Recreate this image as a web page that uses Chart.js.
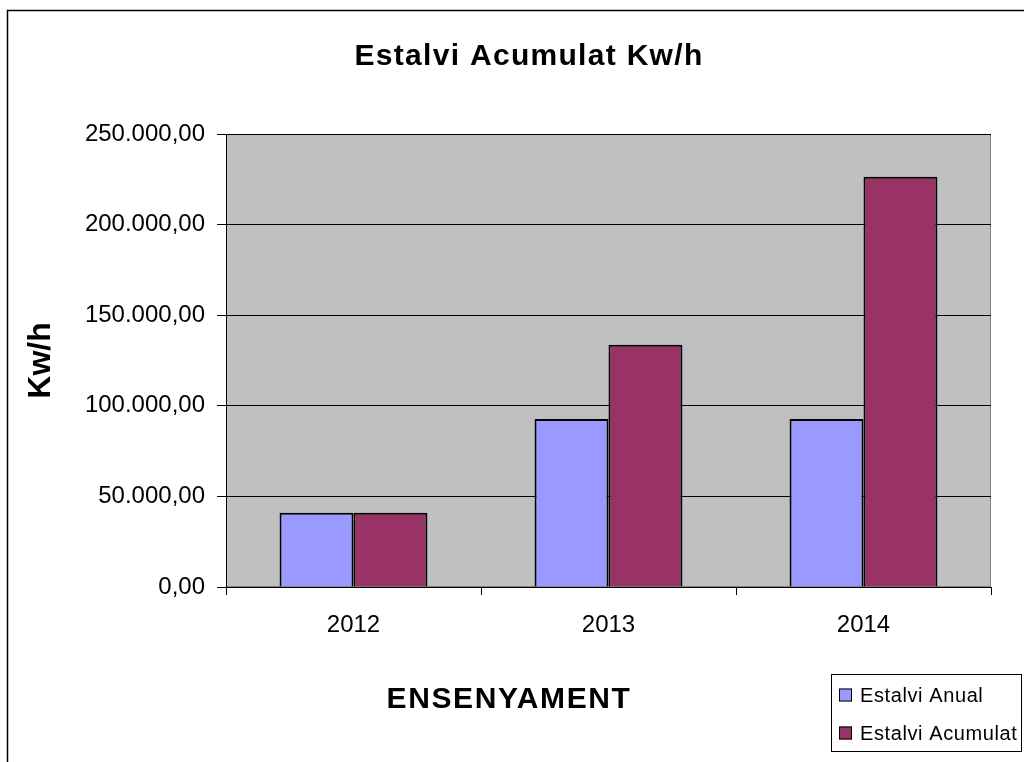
<!DOCTYPE html>
<html>
<head>
<meta charset="utf-8">
<title>Estalvi Acumulat Kw/h</title>
<script src="https://cdn.jsdelivr.net/npm/chart.js@4"></script>
<style>
  html, body { margin: 0; padding: 0; background: #fff; }
  #wrap { width: 1024px; height: 762px; position: relative; }
</style>
</head>
<body>
<div id="wrap"><canvas id="myChart"></canvas></div>
<script>
// Data
const years = ['2012', '2013', '2014'];
const estalviAnual = [41000, 92700, 92700];
const estalviAcumulat = [41000, 133700, 226400];
const seriesNames = ['Estalvi Anual', 'Estalvi Acumulat'];
const chartTitle = 'Estalvi Acumulat Kw/h';
const xTitle = 'ENSENYAMENT';
const yTitle = 'Kw/h';

const FONT = '"Liberation Sans", Arial, sans-serif';

// 250000 -> "250.000,00"
const fmt = v => String(Math.round(v)).replace(/\B(?=(\d{3})+(?!\d))/g, '.') + ',00';

// grey plot area, outer frame, title, x title and legend box
const excelLook = {
  id: 'excelLook',
  beforeDraw(chart) {
    const { ctx, chartArea: a } = chart;
    ctx.save();
    ctx.fillStyle = '#fff';
    ctx.fillRect(0, 0, chart.width, chart.height);
    // outer chart frame (only top and left edges are inside the picture)
    ctx.strokeStyle = '#000';
    ctx.lineWidth = 1.5;
    ctx.strokeRect(7.5, 10.5, 2000, 2000);
    // plot area
    ctx.fillStyle = '#C0C0C0';
    ctx.fillRect(a.left, a.top, a.right - a.left, a.bottom - a.top);
    ctx.strokeStyle = '#808080';
    ctx.lineWidth = 1;
    ctx.strokeRect(a.left + 0.5, a.top + 0.5, a.right - a.left - 1, a.bottom - a.top - 1);
    ctx.restore();
  },
  afterDraw(chart) {
    const { ctx } = chart;
    ctx.save();
    ctx.fillStyle = '#000';
    ctx.textAlign = 'center';
    ctx.textBaseline = 'alphabetic';
    ctx.font = 'bold 30px ' + FONT;
    ctx.letterSpacing = '1.3px';
    ctx.fillText(chartTitle, 529, 65);
    ctx.letterSpacing = '1.6px';
    ctx.fillText(xTitle, 509, 708);

    // legend
    ctx.strokeStyle = '#000';
    ctx.lineWidth = 1;
    ctx.strokeRect(831.5, 674.5, 190, 77);
    ctx.font = '20px ' + FONT;
    ctx.letterSpacing = '0.6px';
    ctx.textAlign = 'left';
    ctx.textBaseline = 'middle';
    const rows = [695, 733];
    chart.data.datasets.forEach((ds, i) => {
      const y = rows[i];
      ctx.fillStyle = ds.backgroundColor;
      ctx.fillRect(839, y - 6.5, 13, 13);
      ctx.strokeRect(839.5, y - 6, 12, 12);
      ctx.fillStyle = '#000';
      ctx.fillText(ds.label, 860, y + 1);
    });
    ctx.restore();
  }
};

const ctx = document.getElementById('myChart').getContext('2d');
new Chart(ctx, {
  type: 'bar',
  data: {
    labels: years,
    datasets: [
      {
        label: seriesNames[0],
        data: estalviAnual,
        backgroundColor: '#9999FF',
        borderColor: '#000',
        borderWidth: 2
      },
      {
        label: seriesNames[1],
        data: estalviAcumulat,
        backgroundColor: '#993366',
        borderColor: '#000',
        borderWidth: 2
      }
    ]
  },
  options: {
    responsive: true,
    maintainAspectRatio: false,
    animation: false,
    layout: { padding: { top: 134, left: 10, right: 33, bottom: 0 } },
    datasets: { bar: { categoryPercentage: 0.58, barPercentage: 1.0 } },
    plugins: {
      legend: { display: false },
      title: { display: false },
      tooltip: { enabled: false }
    },
    scales: {
      x: {
        afterFit(scale) { scale.height = 175; },
        border: { display: true, color: '#000', width: 1 },
        grid: {
          offset: true,
          drawOnChartArea: false,
          drawTicks: true,
          tickLength: 8,
          color: '#000'
        },
        ticks: {
          color: '#000',
          padding: 16,
          font: { family: FONT, size: 24 }
        }
      },
      y: {
        min: 0,
        max: 250000,
        afterFit(scale) { scale.width = 216; },
        border: { display: true, color: '#000', width: 1 },
        grid: {
          color: '#000',
          lineWidth: 1,
          drawTicks: true,
          tickLength: 9
        },
        ticks: {
          stepSize: 50000,
          color: '#000',
          padding: 12,
          font: { family: FONT, size: 24 },
          callback: v => fmt(v)
        },
        title: {
          display: true,
          text: yTitle,
          color: '#000',
          padding: { top: 12, bottom: 0 },
          font: { family: FONT, size: 32, weight: 'bold' }
        }
      }
    }
  },
  plugins: [excelLook]
});
</script>
</body>
</html>
